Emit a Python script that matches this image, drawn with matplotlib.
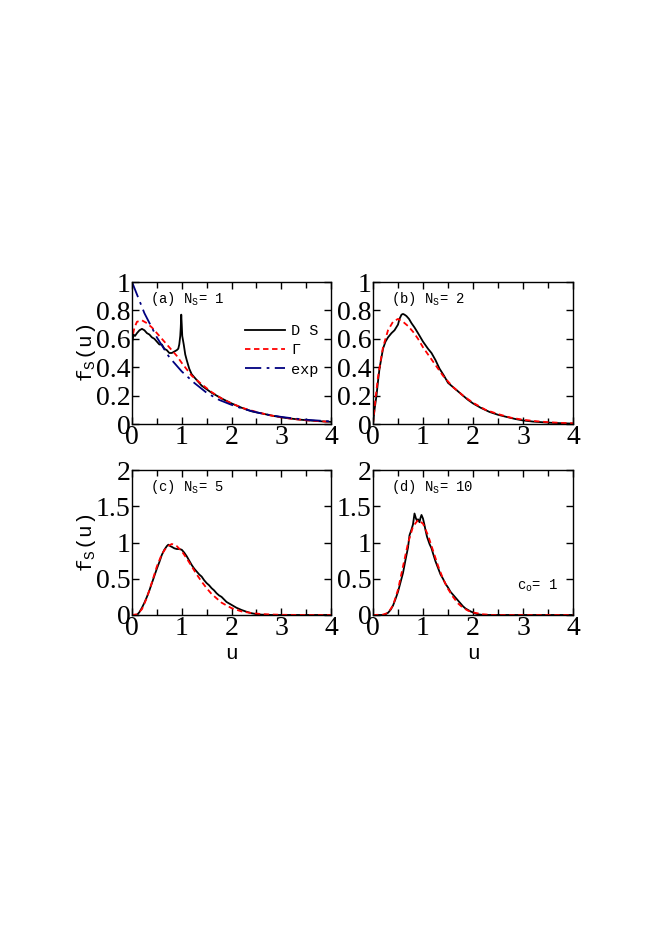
import numpy as np
import matplotlib.pyplot as plt
from matplotlib.ticker import MultipleLocator, FormatStrFormatter

plt.rcParams['mathtext.fontset'] = 'custom'
plt.rcParams['mathtext.rm'] = 'Liberation Mono'

# panel (a), N_S = 1
u_a_ds = [0, 0.01, 0.03, 0.06, 0.1, 0.15, 0.2, 0.25, 0.3, 0.35, 0.4, 0.45, 0.5, 0.55,
          0.6, 0.65, 0.7, 0.75, 0.8, 0.85, 0.9, 0.93, 0.95, 0.97, 0.98, 0.99, 1.0, 1.01,
          1.04, 1.07, 1.1, 1.15, 1.2, 1.3, 1.4, 1.5, 1.6, 1.8, 2.0, 2.2, 2.4, 2.6, 2.8,
          3.0, 3.2, 3.4, 3.6, 3.8, 4.0]
f_a_ds = [0, 0.58, 0.63, 0.62, 0.64, 0.66, 0.67, 0.66, 0.64, 0.63, 0.61, 0.60, 0.58, 0.56,
          0.56, 0.53, 0.52, 0.50, 0.50, 0.51, 0.52, 0.53, 0.56, 0.62, 0.68, 0.77, 0.70, 0.62,
          0.56, 0.49, 0.45, 0.39, 0.35, 0.31, 0.27, 0.245, 0.22, 0.18, 0.145, 0.115, 0.09,
          0.075, 0.06, 0.047, 0.038, 0.03, 0.024, 0.019, 0.015]
u_a_g = [0, 0, 0.05, 0.1, 0.2, 0.3, 0.4, 0.5, 0.6, 0.7, 0.8, 0.9, 1.0, 1.2, 1.4, 1.6, 1.8,
         2.0, 2.25, 2.5, 2.75, 3.0, 3.25, 3.5, 3.75, 4.0]
f_a_g = [0, 0.6, 0.68, 0.72, 0.73, 0.71, 0.68, 0.64, 0.60, 0.56, 0.52, 0.48, 0.43, 0.34,
         0.28, 0.225, 0.18, 0.145, 0.11, 0.085, 0.063, 0.047, 0.035, 0.026, 0.02, 0.015]
u_a_exp = [0, 0.25, 0.5, 0.75, 1.0, 1.25, 1.5, 1.75, 2.0, 2.25, 2.5, 2.75, 3.0, 3.25, 3.5,
           3.75, 4.0]
f_a_exp = [1.0, 0.78, 0.61, 0.47, 0.37, 0.29, 0.22, 0.17, 0.135, 0.105, 0.082, 0.064, 0.05,
           0.039, 0.03, 0.024, 0.018]

# panel (b), N_S = 2
u_b_ds = [0, 0.03, 0.07, 0.1, 0.13, 0.17, 0.2, 0.25, 0.3, 0.37, 0.43, 0.5, 0.53, 0.57, 0.6,
          0.63, 0.67, 0.72, 0.77, 0.83, 0.9, 1.0, 1.1, 1.17, 1.25, 1.33, 1.42, 1.5, 1.6, 1.7,
          1.8, 1.9, 2.0, 2.15, 2.33, 2.5, 2.67, 2.85, 3.0, 3.2, 3.4, 3.6, 3.8, 4.0]
f_b_ds = [0, 0.1, 0.2, 0.3, 0.39, 0.47, 0.53, 0.58, 0.61, 0.64, 0.66, 0.70, 0.74, 0.77, 0.775,
          0.77, 0.76, 0.74, 0.71, 0.68, 0.64, 0.58, 0.53, 0.50, 0.45, 0.39, 0.34, 0.29, 0.26,
          0.23, 0.20, 0.17, 0.145, 0.115, 0.085, 0.065, 0.05, 0.035, 0.025, 0.017, 0.012,
          0.008, 0.005, 0.003]
u_b_g = [0, 0.05, 0.1, 0.15, 0.2, 0.3, 0.4, 0.5, 0.6, 0.7, 0.8, 0.9, 1.0, 1.2, 1.4, 1.6, 1.8,
         2.0, 2.25, 2.5, 2.75, 3.0, 3.25, 3.5, 3.75, 4.0]
f_b_g = [0, 0.18, 0.33, 0.44, 0.54, 0.66, 0.72, 0.74, 0.72, 0.69, 0.65, 0.60, 0.54, 0.44,
         0.34, 0.26, 0.20, 0.15, 0.10, 0.07, 0.045, 0.03, 0.02, 0.013, 0.008, 0.005]

# panel (c), N_S = 5
u_c_ds = [0, 0.1, 0.15, 0.2, 0.25, 0.3, 0.35, 0.4, 0.45, 0.5, 0.55, 0.6, 0.65, 0.7, 0.73,
          0.77, 0.8, 0.85, 0.9, 0.95, 1.0, 1.05, 1.1, 1.15, 1.2, 1.25, 1.3, 1.35, 1.4, 1.45,
          1.5, 1.55, 1.6, 1.65, 1.7, 1.75, 1.8, 1.9, 2.0, 2.1, 2.2, 2.3, 2.4, 2.5, 2.6, 2.8,
          3.0, 4.0]
f_c_ds = [0, 0.0, 0.04, 0.1, 0.17, 0.25, 0.34, 0.44, 0.54, 0.64, 0.73, 0.83, 0.90, 0.95, 0.97,
          0.95, 0.94, 0.92, 0.91, 0.91, 0.90, 0.86, 0.81, 0.75, 0.69, 0.64, 0.60, 0.56, 0.53,
          0.48, 0.44, 0.41, 0.37, 0.34, 0.30, 0.27, 0.25, 0.18, 0.14, 0.10, 0.07, 0.045, 0.025,
          0.012, 0.005, 0.0, 0.0, 0.0]
u_c_g = [0, 0.1, 0.2, 0.3, 0.4, 0.5, 0.6, 0.7, 0.8, 0.9, 1.0, 1.1, 1.2, 1.3, 1.4, 1.5, 1.6,
         1.8, 2.0, 2.2, 2.4, 2.6, 2.8, 3.0, 3.5, 4.0]
f_c_g = [0, 0.01, 0.08, 0.24, 0.45, 0.67, 0.84, 0.94, 0.98, 0.95, 0.88, 0.78, 0.67, 0.56,
         0.46, 0.37, 0.29, 0.17, 0.095, 0.05, 0.027, 0.013, 0.007, 0.003, 0.0, 0.0]

# panel (d), N_S = 10
u_d_ds = [0, 0.2, 0.25, 0.3, 0.35, 0.4, 0.45, 0.5, 0.55, 0.6, 0.65, 0.7, 0.73, 0.77, 0.8,
          0.83, 0.86, 0.88, 0.9, 0.93, 0.95, 0.97, 1.0, 1.03, 1.05, 1.08, 1.1, 1.13, 1.17,
          1.2, 1.25, 1.3, 1.35, 1.4, 1.45, 1.5, 1.55, 1.6, 1.65, 1.7, 1.75, 1.8, 1.85, 1.9,
          1.95, 2.0, 2.05, 2.1, 2.2, 4.0]
f_d_ds = [0, 0, 0.01, 0.03, 0.07, 0.13, 0.22, 0.32, 0.45, 0.58, 0.76, 0.93, 1.10, 1.18, 1.25,
          1.40, 1.33, 1.30, 1.32, 1.28, 1.34, 1.38, 1.33, 1.24, 1.17, 1.08, 1.04, 0.98, 0.92,
          0.85, 0.74, 0.65, 0.56, 0.50, 0.43, 0.38, 0.32, 0.28, 0.24, 0.20, 0.16, 0.12, 0.09,
          0.07, 0.05, 0.035, 0.02, 0.01, 0.0, 0.0]
u_d_g = [0, 0.2, 0.3, 0.4, 0.5, 0.6, 0.7, 0.8, 0.9, 1.0, 1.1, 1.2, 1.3, 1.4, 1.5, 1.6, 1.7,
         1.8, 1.9, 2.0, 2.2, 2.4, 4.0]
f_d_g = [0, 0.005, 0.03, 0.13, 0.35, 0.67, 0.99, 1.22, 1.31, 1.26, 1.10, 0.89, 0.68, 0.50,
         0.36, 0.25, 0.16, 0.10, 0.06, 0.035, 0.01, 0.0, 0.0]

labels = ['(a) N$_{\\rm S}$= 1', '(b) N$_{\\rm S}$= 2', '(c) N$_{\\rm S}$= 5', '(d) N$_{\\rm S}$= 10']

W, H = 654, 925
fig = plt.figure(figsize=(W / 100, H / 100), dpi=100)

def box(x0, x1, y0, y1):
    return [x0 / W, 1 - y1 / H, (x1 - x0) / W, (y1 - y0) / H]

ax_a = fig.add_axes(box(132, 331, 282, 424))
ax_b = fig.add_axes(box(373, 573, 282, 424))
ax_c = fig.add_axes(box(132, 331, 470, 615))
ax_d = fig.add_axes(box(373, 573, 470, 615))

red_dash = (0, (3, 2))
blue_dd = (0, (9, 3, 1.5, 3))

ax_a.plot(u_a_ds, f_a_ds, color='black', lw=1.3, label='D S')
ax_a.plot(u_a_g, f_a_g, color='red', lw=1.3, linestyle=red_dash, label='\u0393')
ax_a.plot(u_a_exp, f_a_exp, color='#000080', lw=1.3, linestyle=blue_dd, label='exp')
ax_a.legend(loc='upper left', bbox_to_anchor=(0.5, 0.8), frameon=False,
            prop={'family': 'Liberation Mono', 'size': 11}, handlelength=2.6,
            labelspacing=0.35, handletextpad=0.4)

ax_b.plot(u_b_ds, f_b_ds, color='black', lw=1.3)
ax_b.plot(u_b_g, f_b_g, color='red', lw=1.3, linestyle=red_dash)
ax_c.plot(u_c_ds, f_c_ds, color='black', lw=1.3)
ax_c.plot(u_c_g, f_c_g, color='red', lw=1.3, linestyle=red_dash)
ax_d.plot(u_d_ds, f_d_ds, color='black', lw=1.3)
ax_d.plot(u_d_g, f_d_g, color='red', lw=1.3, linestyle=red_dash)

for i, ax in enumerate([ax_a, ax_b, ax_c, ax_d]):
    ax.set_xlim(0, 4)
    ax.xaxis.set_major_locator(MultipleLocator(1))
    ax.xaxis.set_minor_locator(MultipleLocator(0.5))
    if i < 2:
        ax.set_ylim(0, 1)
        ax.yaxis.set_major_locator(MultipleLocator(0.2))
    else:
        ax.set_ylim(0, 2)
        ax.yaxis.set_major_locator(MultipleLocator(0.5))
    ax.yaxis.set_major_formatter(FormatStrFormatter('%g'))
    ax.tick_params(which='both', direction='in', top=True, right=True, width=1)
    ax.tick_params(which='major', length=5, labelsize=20, pad=1)
    ax.tick_params(which='minor', length=4)
    for lab in ax.get_xticklabels() + ax.get_yticklabels():
        lab.set_family('Liberation Serif')
    for sp in ax.spines.values():
        sp.set_linewidth(1)
    ax.text(0.09, 0.88, labels[i], transform=ax.transAxes, family='Liberation Mono',
            fontsize=10, va='center', ha='left')

for ax in [ax_a, ax_c]:
    ax.set_ylabel('f$_{\\rm S}$(u)', family='Liberation Mono', fontsize=15)
    ax.yaxis.set_label_coords(-0.17, 0.5)
for ax in [ax_c, ax_d]:
    ax.set_xlabel('u', family='Liberation Mono', fontsize=15)
    ax.xaxis.set_label_coords(0.5, -0.2)

ax_d.text(0.72, 0.2, 'c$_{\\rm o}$= 1', transform=ax_d.transAxes, family='Liberation Mono',
          fontsize=10, va='center', ha='left')

fig.savefig('out.png', dpi=100)
